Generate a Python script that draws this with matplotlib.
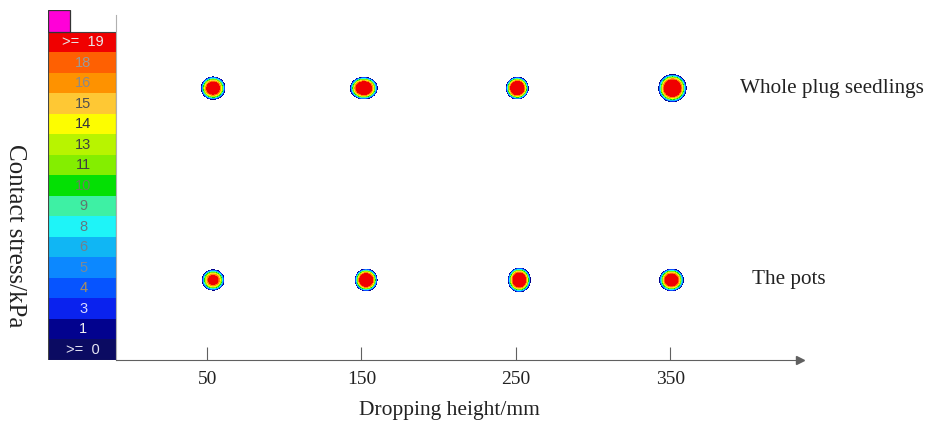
import numpy as np
import matplotlib.pyplot as plt
from matplotlib.patches import Rectangle

# colour scale (bottom -> top)
levels = ['>= 0', '1', '3', '4', '5', '6', '8', '9', '10', '11', '13', '14', '15', '16', '18', '>= 19']
level_vals = [0, 1, 3, 4, 5, 6, 8, 9, 10, 11, 13, 14, 15, 16, 18, 19]
level_colors = ['#0b0b62', '#02028e', '#0a22ee', '#0654ff', '#0c88ff', '#10b6f4',
                '#1ef4f8', '#3ef0a4', '#04e004', '#84ee00', '#b8f400', '#fdfd00',
                '#fec834', '#fe9200', '#fe6002', '#f00000']
label_colors = ['#e6e6f4', '#f0f0f0', '#d8d8ff', '#a89060', '#7a8898', '#6f8090',
                '#607880', '#607870', '#6a8060', '#404040', '#404040', '#303040',
                '#505050', '#8a8a8a', '#9a9a9a', '#e8e8e8']

# dropping heights and contact spots
heights = [50, 150, 250, 350]
groups = ['Whole plug seedlings', 'The pots']
group_y = [0.788, 0.232]
# spot centre (mm axis), half width (mm), half height (axis frac), peak stress
spot_x = [[53.9, 151.5, 250.9, 351.4], [53.9, 153.0, 252.2, 350.8]]
spot_rx = [[7.8, 8.8, 7.2, 9.0], [7.2, 7.2, 7.2, 7.8]]
spot_ry = [[0.033, 0.032, 0.032, 0.040], [0.030, 0.032, 0.035, 0.032]]
spot_peak = [[26, 28, 29, 29], [23, 28, 28, 26]]

plt.rcParams['font.family'] = 'Liberation Serif'
fig = plt.figure(figsize=(9.26, 4.21), dpi=100)

# colour bar
cax = fig.add_axes([48 / 926, 61 / 421, 68 / 926, 350 / 421])
n = len(levels)
cax.barh(np.arange(n) + 0.5, [1] * n, height=1, left=0, color=level_colors, edgecolor='none')
for i, lab in enumerate(levels):
    cax.text(0.52, i + 0.5, lab.replace('= ', '=  '), ha='center', va='center', fontsize=10.5,
             family='Liberation Sans', color=label_colors[i])
cax.add_patch(Rectangle((0, 0), 1, n, fill=False, edgecolor='#444444', lw=0.8))
cax.add_patch(Rectangle((0, n), 0.32, 1.07, facecolor='#ff00d8', edgecolor='#333333', lw=0.9))
cax.set_xlim(0, 1)
cax.set_ylim(0, n + 1.07)
cax.axis('off')

# main axes
ax = fig.add_axes([116 / 926, 61 / 421, 684 / 926, 345 / 421])
ax.set_xlim(-9, 434)
ax.set_ylim(0, 1)
fill_levels = level_vals[1:] + [1000]
for g in range(len(groups)):
    for k in range(len(heights)):
        cx, cy = spot_x[g][k], group_y[g]
        rx, ry = spot_rx[g][k], spot_ry[g][k]
        xs = np.linspace(cx - 1.3 * rx, cx + 1.3 * rx, 120)
        ys = np.linspace(cy - 1.3 * ry, cy + 1.3 * ry, 120)
        X, Y = np.meshgrid(xs, ys)
        r = np.sqrt(((X - cx) / rx) ** 2 + ((Y - cy) / ry) ** 2)
        Z = spot_peak[g][k] * (1 - r ** 2)
        ax.contourf(X, Y, Z, levels=fill_levels, colors=level_colors[1:])
    ax.text(395.4 if g == 0 else 403, group_y[g], groups[g], fontsize=15.2,
            ha='left', va='center', color='#222222', clip_on=False)

for s in ['top', 'right']:
    ax.spines[s].set_visible(False)
ax.spines['left'].set_color('#b0b0b0')
ax.spines['bottom'].set_color('#606060')
ax.plot(1, 0, '>', color='#606060', markersize=6, transform=ax.transAxes, clip_on=False)
ax.set_yticks([])
ax.set_xticks(heights)
ax.tick_params(axis='x', direction='in', length=9.5, color='#606060', pad=8,
               labelsize=14, labelcolor='#222222')
ax.set_xlabel('Dropping height/mm', fontsize=15.5, color='#222222')
ax.xaxis.set_label_coords(0.487, -0.12)

fig.text(15 / 926, 1 - 236 / 421, 'Contact stress/kPa', rotation=270, fontsize=18,
         ha='center', va='center', color='#222222')

fig.savefig('out.png', dpi=100)
